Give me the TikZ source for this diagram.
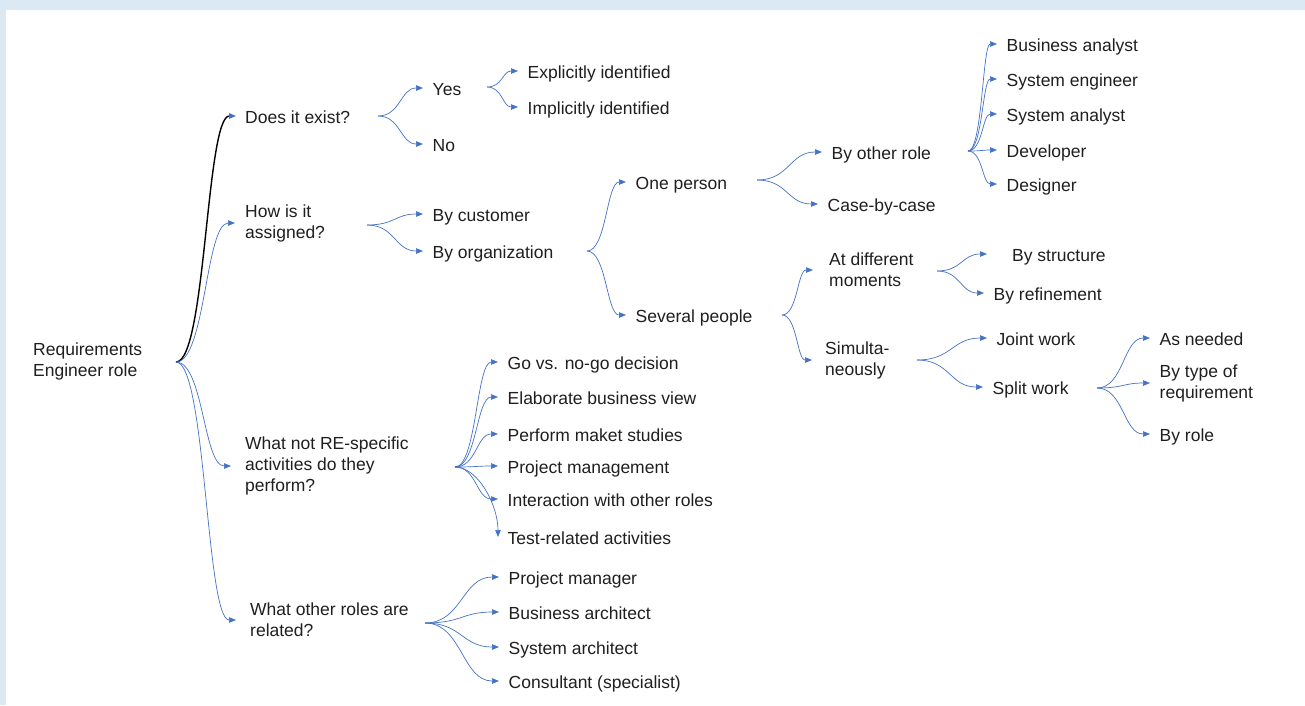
\documentclass[tikz,border=0pt]{standalone}
\usepackage{fontspec}
\setmainfont{Liberation Sans}
\usetikzlibrary{arrows.meta,calc}
\definecolor{bgblue}{HTML}{DAE9F3}
\definecolor{lnblue}{HTML}{4472C4}
\definecolor{txt}{HTML}{1F1F1F}
\begin{document}
\begin{tikzpicture}[x=1pt,y=-1pt,
  lbl/.style={anchor=west,inner ysep=0pt,inner xsep=9.5pt,text height=15.5pt,text depth=0pt,
    font=\fontsize{17.5}{21}\selectfont,text=txt},
  ml/.style={anchor=west,inner ysep=0pt,inner xsep=9.5pt,align=left,
    font=\fontsize{17.5}{21}\selectfont,text=txt},
  fork/.style={to path={.. controls ($(\tikztostart)!0.5!(\tikztostart-|\tikztotarget)$) and ($(\tikztotarget)!0.5!(\tikztotarget-|\tikztostart)$) .. (\tikztotarget) \tikztonodes}},
  conn/.style={draw=lnblue,line width=0.7pt,-{Triangle[length=7pt,width=5.5pt,color=lnblue]}}]
\useasboundingbox (0,0) rectangle (1305,705);
\fill[bgblue] (0,0) rectangle (1305,705);
\fill[white] (6,10) rectangle (1305,705);

% root and level 1
\node[ml,inner xsep=0pt] (root) at (33,361) {Requirements\\Engineer role};
\coordinate (fR) at (176,362);
\node[lbl,inner xsep=9pt] (does) at (236,116) {Does it exist?};
\node[ml,inner xsep=10pt] (how) at (235,223) {How is it\\assigned?};
\node[ml,inner xsep=14pt] (what) at (231,466) {What not RE-specific\\activities do they\\perform?};
\node[ml,inner xsep=14pt] (other) at (236,620) {What other roles are\\related?};

\draw[conn,draw=black,line width=1.4pt] (fR) to[fork] (does.west);
\draw[conn] (fR) to[fork] (how.west);
\draw[conn] (fR) to[fork] (what.west);
\draw[conn] (fR) to[fork] (other.west);

% Does it exist?
\coordinate (fD) at (378,116);
\node[lbl] (yes) at (423,88) {Yes};
\node[lbl] (no) at (423,144) {No};
\draw[conn] (fD) to[fork] (yes.west);
\draw[conn] (fD) to[fork] (no.west);
\coordinate (fY) at (487,87);
\node[lbl] (expl) at (518,71) {Explicitly identified};
\node[lbl] (impl) at (518,107) {Implicitly identified};
\draw[conn] (fY) to[fork] (expl.west);
\draw[conn] (fY) to[fork] (impl.west);

% How is it assigned?
\coordinate (fH) at (367,225);
\node[lbl] (cust) at (423,214) {By customer};
\node[lbl] (org) at (423,251) {By organization};
\draw[conn] (fH) to[fork] (cust.west);
\draw[conn] (fH) to[fork] (org.west);

\coordinate (fO) at (587,251);
\node[lbl] (one) at (626,182) {One person};
\node[lbl] (sev) at (626,315) {Several people};
\draw[conn] (fO) to[fork] (one.west);
\draw[conn] (fO) to[fork] (sev.west);

\coordinate (fP) at (757,180);
\node[lbl] (byo) at (822,152) {By other role};
\node[lbl] (cbc) at (818,204) {Case-by-case};
\draw[conn] (fP) to[fork] (byo.west);
\draw[conn] (fP) to[fork] (cbc.west);

\coordinate (fB) at (968,151);
\node[lbl] (ba) at (997,44) {Business analyst};
\node[lbl] (se) at (997,79) {System engineer};
\node[lbl] (sa) at (997,114) {System analyst};
\node[lbl] (dev) at (997,150) {Developer};
\node[lbl] (des) at (997,184) {Designer};
\foreach \t in {ba,se,sa,dev,des} \draw[conn] (fB) to[fork] (\t.west);

\coordinate (fS) at (782,315);
\node[ml,inner xsep=16pt] (adm) at (813,270) {At different\\moments};
\node[ml,inner xsep=13pt] (sim) at (812,360) {Simulta-\\neously};
\draw[conn] (fS) to[fork] (adm.west);
\draw[conn] (fS) to[fork] (sim.west);

\coordinate (fM) at (937,271);
\node[lbl,inner xsep=25pt] (bst) at (987,254) {By structure};
\node[lbl] (bre) at (984,293) {By refinement};
\draw[conn] (fM) to[fork] (bst.west);
\draw[conn] (fM) to[fork] (bre.west);

\coordinate (fSi) at (917,360);
\node[lbl] (jw) at (987,338) {Joint work};
\node[lbl] (sw) at (983,387) {Split work};
\draw[conn] (fSi) to[fork] (jw.west);
\draw[conn] (fSi) to[fork] (sw.west);

\coordinate (fSp) at (1097,388);
\node[lbl] (an) at (1150,338) {As needed};
\node[ml] (bt) at (1150,383) {By type of\\requirement};
\node[lbl] (brl) at (1150,434) {By role};
\draw[conn] (fSp) to[fork] (an.west);
\draw[conn] (fSp) to[fork] (bt.west);
\draw[conn] (fSp) to[fork] (brl.west);

% What not RE-specific
\coordinate (fW) at (455,467);
\node[lbl] (go) at (498,362) {Go vs. no-go decision};
\node[lbl] (el) at (498,397) {Elaborate business view};
\node[lbl] (pms) at (498,434) {Perform maket studies};
\node[lbl] (proj) at (498,466) {Project management};
\node[lbl] (inter) at (498,499) {Interaction with other roles};
\node[lbl] (test) at (498,537) {Test-related activities};
\foreach \t in {go,el,pms,proj,inter} \draw[conn] (fW) to[fork] (\t.west);
\draw[conn] (fW) .. controls (478,467) and (498,505) .. (test.west);

% What other roles
\coordinate (fR2) at (425,623);
\node[lbl] (pmgr) at (499,577) {Project manager};
\node[lbl] (bar) at (499,612) {Business architect};
\node[lbl] (sar) at (499,647) {System architect};
\node[lbl] (con) at (499,681) {Consultant (specialist)};
\foreach \t in {pmgr,bar,sar,con} \draw[conn] (fR2) to[fork] (\t.west);
\end{tikzpicture}
\end{document}
